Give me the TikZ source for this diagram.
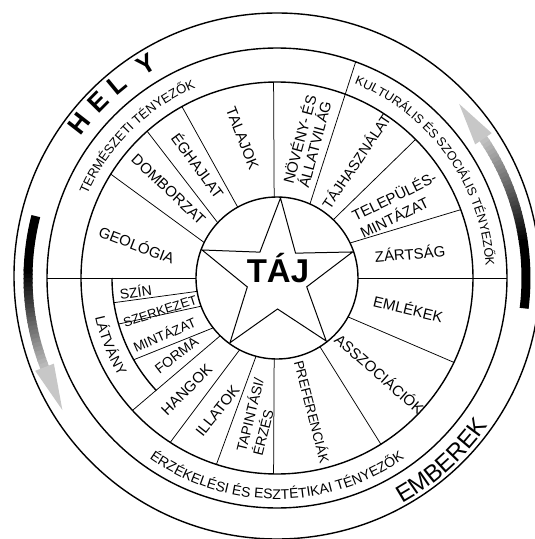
\documentclass[tikz,border=0pt]{standalone}
\usepackage{fontspec}
\setmainfont{Liberation Sans}
\usetikzlibrary{decorations.text}

\begin{document}
\begin{tikzpicture}[
    x=1pt, y=1pt,
    ring/.style={black, line width=1.4pt},
    divider/.style={black, line width=0.75pt},
    starline/.style={black, line width=1pt, line join=miter},
    lbl/.style={font=\fontsize{15}{16}\selectfont, inner sep=0pt, align=left},
    sublbl/.style={font=\fontsize{13.5}{15}\selectfont, inner sep=0pt},
    bigletter/.style={font=\fontsize{26}{28}\selectfont\bfseries, inner sep=0pt},
    band/.style={line width=9pt},
    head/.style={fill=black!22},
    title/.style={font=\fontsize{33}{36}\selectfont\bfseries, inner sep=0pt}
]

% Radii
\def\rIn{81}
\def\rSub{165}
\def\rMid{196}
\def\rCat{230}
\def\rOut{263}
\def\rBand{249}

\useasboundingbox (-277,-261) rectangle (258,278);
\clip (-277,-261) rectangle (258,278);

% ============================================================
% Rings
% ============================================================

\draw[ring] (0,2) circle[radius=\rOut];
\draw[ring] (0,0) circle[radius=\rCat];
\draw[ring] (0,0) circle[radius=\rMid];
\draw[ring] (0,0) circle[radius=\rIn];
\draw[ring] (180:\rSub) arc[start angle=180, end angle=223, radius=\rSub];

% Sector dividers (inner angle / outer angle)
\foreach \a/\b in {154/148, 137/131.5, 119/119, 92/91, 46/45, 25.6/20.4,
                   -28.7/-25.5, -58/-58, -92/-91, -105/-108, -117.5/-123, -134.5/-137.5} {
    \draw[divider] (\a:\rIn) -- (\b:\rMid);
}
\draw[divider] (180:\rIn) -- (180:\rCat);
\draw[divider] (0:\rIn) -- (0:\rCat);
\draw[divider] (66:\rIn) -- (70:\rCat);

% Latvany subdivisions
\foreach \a/\b in {-170.5/-171.4, -159.6/-163.8, -142/-150.3} {
    \draw[divider] (\a:\rIn) -- (\b:\rSub);
}

% ============================================================
% Star and title
% ============================================================

\draw[starline] (87.5:80) -- (123.5:31) -- (159.5:80) -- (196.75:31) -- (234:80)
    -- (271:31) -- (308:80) -- (343.5:31) -- (379:80) -- (53.25:31) -- cycle;
\node[title, anchor=base] (taj) at (1,-4) {TÁJ};

% ============================================================
% Sector labels
% ============================================================

\node[lbl, rotate=-21] (geologia) at (166.5:144) {GEOLÓGIA};
\node[lbl, rotate=-43] (domborzat) at (140.8:140) {DOMBORZAT};
\node[lbl, rotate=-53.6] (eghajlat) at (124.9:137.7) {ÉGHAJLAT};
\node[lbl, rotate=-68.4] (talajok) at (103.9:144) {TALAJOK};
\node[lbl, rotate=75] (noveny) at (77.8:140) {NÖVÉNY- ÉS\\ÁLLATVILÁG};
\node[lbl, font=\fontsize{14.5}{16}\selectfont, rotate=56] (tajhasznalat) at (56.1:141) {TÁJHASZNÁLAT};
\node[lbl, font=\fontsize{15}{19}\selectfont, rotate=26] (telepules) at (31.4:141.7) {TELEPÜLÉS-\\MINTÁZAT};
\node[lbl, rotate=5] (zartsag) at (10.6:135.3) {ZÁRTSÁG};
\node[lbl, rotate=-13.4] (emlekek) at (-13:134.8) {EMLÉKEK};
\node[lbl, rotate=-41.3] (asszociaciok) at (-42.8:140.3) {ASSZOCIÁCIÓK};
\node[lbl, font=\fontsize{13.5}{15}\selectfont, rotate=-75.5] (preferenciak) at (-75.1:138.3) {PREFERENCIÁK};
\node[lbl, font=\fontsize{14}{17}\selectfont, rotate=76] (tapintasi) at (-98:140) {TAPINTÁSI/\\ÉRZÉS};
\node[lbl, rotate=51.6] (illatok) at (-114.1:145.5) {ILLATOK};
\node[lbl, rotate=45] (hangok) at (-128.9:143.9) {HANGOK};
\node[sublbl, font=\fontsize{14}{15}\selectfont, rotate=37.6] (forma) at (-142.5:126.5) {FORMA};
\node[sublbl, rotate=23.5] (mintazat) at (-153.5:126) {MINTÁZAT};
\node[sublbl, font=\fontsize{13}{15}\selectfont, rotate=18.1] (szerkezet) at (-164.1:121.6) {SZERKEZET};
\node[sublbl, font=\fontsize{14}{15}\selectfont, rotate=8] (szin) at (-174.5:142) {SZÍN};

% Curved labels
\path[decorate, decoration={text along path, text align=center,
    text={|\fontsize{14}{15}\selectfont|LÁTVÁNY}}]
    (-185:186) arc[start angle=-185, end angle=-131, radius=186];
\path[decorate, decoration={text along path, text align=center,
    text={|\fontsize{13}{15}\selectfont|TERMÉSZETI TÉNYEZŐK}}]
    (175:207) arc[start angle=175, end angle=94.4, radius=207];
\path[decorate, decoration={text along path, text align=center,
    text={|\fontsize{12.5}{15}\selectfont|KULTURÁLIS ÉS SZOCIÁLIS TÉNYEZŐK}}]
    (80:209) arc[start angle=80, end angle=-8.4, radius=209];
\path[decorate, decoration={text along path, text align=center,
    text={|\fontsize{14}{15}\selectfont|ÉRZÉKELÉSI ÉS ESZTÉTIKAI TÉNYEZŐK}}]
    (-150:221) arc[start angle=-150, end angle=-30, radius=221];

% ============================================================
% Outer ring: HELY, EMBEREK and arrows
% ============================================================

\foreach \ch/\ang [count=\k] in {H/142.1, E/135.4, L/129.5, Y/121.5} {
    \node[bigletter, rotate=\ang-90] (hely-\k) at (\ang:251) {\ch};
}
\path[decorate, decoration={text along path, text align=center,
    text={|\fontsize{24}{26}\selectfont|EMBEREK}}]
    (-78:258) arc[start angle=-78, end angle=-18, radius=258];

% Left arrow (down)
\draw[band, black] (165.6:\rBand) arc[start angle=165.6, end angle=178.5, radius=\rBand];
\foreach \i in {0,...,22} {
    \pgfmathsetmacro\tone{100-3.3*\i}
    \draw[band, draw=black!\tone] (178+\i:\rBand) arc[start angle=178+\i, end angle=179.3+\i, radius=\rBand];
}
\fill[head] (201:239) -- (211.6:252) -- (201:259) -- cycle;

% Right arrow (up)
\draw[band, black] (-7:\rBand) arc[start angle=-7, end angle=8.5, radius=\rBand];
\foreach \i in {0,...,25} {
    \pgfmathsetmacro\tone{100-3*\i}
    \draw[band, draw=black!\tone] (8+\i:\rBand) arc[start angle=8+\i, end angle=9.3+\i, radius=\rBand];
}
\fill[head] (34:239) -- (43.7:252) -- (34:259) -- cycle;
\end{tikzpicture}
\end{document}
